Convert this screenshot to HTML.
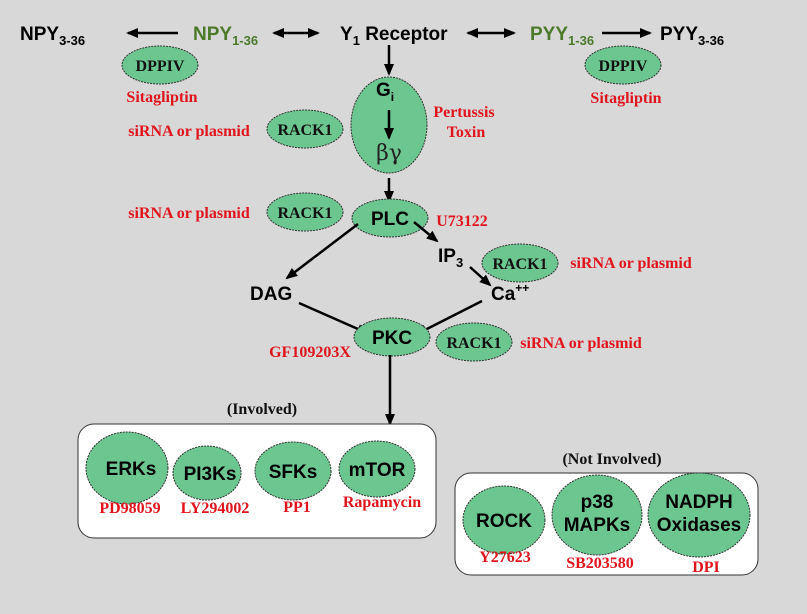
<!DOCTYPE html>
<html><head><meta charset="utf-8"><style>
html,body{margin:0;padding:0;background:#d8d8d8}
svg{display:block}
.b{font-family:"Liberation Sans",sans-serif;font-weight:bold;font-size:19px;fill:#000}
.g{fill:#4b7a2b}
.r{font-family:"Liberation Serif",serif;font-weight:bold;font-size:16px;fill:#e0141c}
.k{font-family:"Liberation Serif",serif;font-weight:bold;font-size:16px;fill:#111}
.e{fill:#6cc690;stroke:#333;stroke-width:1;stroke-dasharray:2,1}
.l{stroke:#000;stroke-width:2.5;fill:none}
.bx{fill:#fff;stroke:#333;stroke-width:1}
</style></head><body>
<svg width="807" height="614" viewBox="0 0 807 614" xmlns="http://www.w3.org/2000/svg">
<defs>
<marker id="a" markerWidth="12" markerHeight="10" refX="10" refY="5" orient="auto" markerUnits="userSpaceOnUse"><path d="M0,0 L12,5 L0,10 z" fill="#000"/></marker>
<marker id="s" markerWidth="12" markerHeight="10" refX="2" refY="5" orient="auto" markerUnits="userSpaceOnUse"><path d="M12,0 L0,5 L12,10 z" fill="#000"/></marker>
</defs>
<rect width="807" height="614" fill="#d8d8d8"/>

<!-- top row -->
<text class="b" x="20" y="40">NPY<tspan font-size="13" dy="5">3-36</tspan></text>
<line class="l" x1="178" y1="33" x2="128" y2="33" marker-end="url(#a)"/>
<text class="b g" x="193" y="40">NPY<tspan font-size="13" dy="5">1-36</tspan></text>
<line class="l" x1="274" y1="33" x2="318" y2="33" marker-start="url(#s)" marker-end="url(#a)"/>
<text class="b" x="340" y="40">Y<tspan font-size="13" dy="5">1</tspan><tspan dy="-5"> Receptor</tspan></text>
<line class="l" x1="468" y1="33" x2="514" y2="33" marker-start="url(#s)" marker-end="url(#a)"/>
<text class="b g" x="530" y="40">PYY<tspan font-size="13" dy="5">1-36</tspan></text>
<line class="l" x1="602" y1="33" x2="650" y2="33" marker-end="url(#a)"/>
<text class="b" x="660" y="40">PYY<tspan font-size="13" dy="5">3-36</tspan></text>

<ellipse class="e" cx="160" cy="65" rx="38" ry="19"/><text class="k" x="160" y="71" text-anchor="middle">DPPIV</text>
<text class="r" x="162" y="102" text-anchor="middle">Sitagliptin</text>
<ellipse class="e" cx="623" cy="65" rx="38" ry="19"/><text class="k" x="623" y="71" text-anchor="middle">DPPIV</text>
<text class="r" x="626" y="103" text-anchor="middle">Sitagliptin</text>

<!-- Gi -->
<line class="l" x1="389" y1="45" x2="389" y2="74" marker-end="url(#a)"/>
<ellipse class="e" cx="389" cy="125" rx="38" ry="48"/>
<text class="b" x="385" y="96" text-anchor="middle">G<tspan font-size="12" dy="5">i</tspan></text>
<line class="l" x1="389" y1="110" x2="389" y2="138" marker-end="url(#a)"/>
<text x="389" y="160" text-anchor="middle" font-family="DejaVu Serif,serif" font-size="22" fill="#222">βγ</text>
<text class="r" x="464" y="117" text-anchor="middle">Pertussis</text>
<text class="r" x="466" y="137" text-anchor="middle">Toxin</text>
<ellipse class="e" cx="305" cy="129" rx="38" ry="19"/><text class="k" x="305" y="135" text-anchor="middle">RACK1</text>
<text class="r" x="189" y="136" text-anchor="middle">siRNA or plasmid</text>

<!-- PLC -->
<line class="l" x1="389" y1="178" x2="389" y2="201" marker-end="url(#a)"/>
<ellipse class="e" cx="390" cy="218" rx="38" ry="19"/><text class="b" x="390" y="225" text-anchor="middle">PLC</text>
<text class="r" x="462" y="226" text-anchor="middle">U73122</text>
<ellipse class="e" cx="305" cy="212" rx="38" ry="19"/><text class="k" x="305" y="218" text-anchor="middle">RACK1</text>
<text class="r" x="189" y="218" text-anchor="middle">siRNA or plasmid</text>

<line class="l" x1="358" y1="224" x2="287" y2="278" marker-end="url(#a)"/>
<line class="l" x1="414" y1="222" x2="437" y2="241" marker-end="url(#a)"/>
<text class="b" x="438" y="262">IP<tspan font-size="13" dy="5">3</tspan></text>
<ellipse class="e" cx="520" cy="263" rx="38" ry="19"/><text class="k" x="520" y="269" text-anchor="middle">RACK1</text>
<text class="r" x="631" y="268" text-anchor="middle">siRNA or plasmid</text>
<line class="l" x1="470" y1="267" x2="490" y2="285" marker-end="url(#a)"/>
<text class="b" x="250" y="300">DAG</text>
<text class="b" x="491" y="300">Ca<tspan font-size="12" dy="-8">++</tspan></text>

<!-- PKC -->
<line class="l" x1="299" y1="303" x2="367" y2="333" marker-end="url(#a)"/>
<line class="l" x1="482" y1="301" x2="417" y2="334" marker-end="url(#a)"/>
<ellipse class="e" cx="392" cy="337" rx="38" ry="19"/><text class="b" x="392" y="344" text-anchor="middle">PKC</text>
<text class="r" x="310" y="357" text-anchor="middle">GF109203X</text>
<ellipse class="e" cx="474" cy="342" rx="38" ry="19"/><text class="k" x="474" y="348" text-anchor="middle">RACK1</text>
<text class="r" x="581" y="348" text-anchor="middle">siRNA or plasmid</text>
<line class="l" x1="390" y1="355" x2="390" y2="424" marker-end="url(#a)"/>

<!-- Involved -->
<text class="k" x="262" y="414" text-anchor="middle" font-size="19">(Involved)</text>
<rect class="bx" x="78" y="424" width="358" height="114" rx="16"/>
<ellipse class="e" cx="127" cy="468" rx="41" ry="36"/><text class="b" x="131" y="475" text-anchor="middle">ERKs</text>
<ellipse class="e" cx="207" cy="473" rx="34" ry="27"/><text class="b" x="210" y="480" text-anchor="middle">PI3Ks</text>
<ellipse class="e" cx="293" cy="471" rx="38" ry="29"/><text class="b" x="293" y="478" text-anchor="middle">SFKs</text>
<ellipse class="e" cx="377" cy="469" rx="38" ry="28"/><text class="b" x="377" y="476" text-anchor="middle">mTOR</text>
<text class="r" x="130" y="513" text-anchor="middle">PD98059</text>
<text class="r" x="215" y="513" text-anchor="middle">LY294002</text>
<text class="r" x="297" y="512" text-anchor="middle">PP1</text>
<text class="r" x="382" y="507" text-anchor="middle">Rapamycin</text>

<!-- Not Involved -->
<text class="k" x="612" y="464" text-anchor="middle" font-size="19">(Not Involved)</text>
<rect class="bx" x="455" y="473" width="303" height="102" rx="16"/>
<ellipse class="e" cx="504" cy="520" rx="41" ry="34"/><text class="b" x="504" y="527" text-anchor="middle">ROCK</text>
<ellipse class="e" cx="597" cy="515" rx="45" ry="40"/>
<text class="b" x="597" y="508" text-anchor="middle">p38</text><text class="b" x="597" y="531" text-anchor="middle">MAPKs</text>
<ellipse class="e" cx="699" cy="515" rx="51" ry="42"/>
<text class="b" x="699" y="508" text-anchor="middle">NADPH</text><text class="b" x="699" y="531" text-anchor="middle">Oxidases</text>
<text class="r" x="505" y="562" text-anchor="middle">Y27623</text>
<text class="r" x="600" y="568" text-anchor="middle">SB203580</text>
<text class="r" x="706" y="572" text-anchor="middle">DPI</text>
</svg>
</body></html>
